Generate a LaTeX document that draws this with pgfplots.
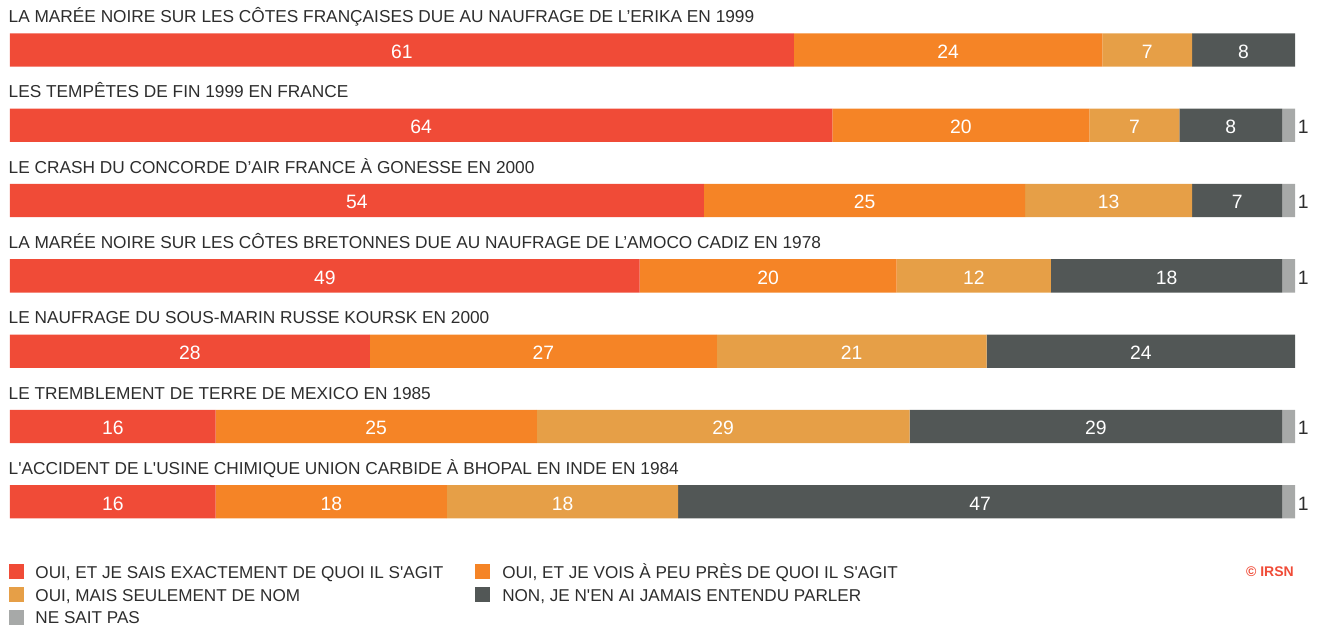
\documentclass[border=0pt]{standalone}
\usepackage{pgfplots}
\pgfplotsset{compat=1.18}
\usepackage{fontspec}
\setmainfont{Liberation Sans}
\definecolor{cRed}{HTML}{F04B37}
\definecolor{cOrange}{HTML}{F58426}
\definecolor{cLight}{HTML}{E69F47}
\definecolor{cDark}{HTML}{525756}
\definecolor{cGrey}{HTML}{A7A9A8}
\definecolor{cText}{HTML}{2D2D2D}
\begin{document}
\begin{tikzpicture}
\path[use as bounding box] (0,0) rectangle (989.25pt,470.25pt);
\begin{axis}[
  at={(0pt,0pt)}, anchor=south west,
  scale only axis, width=989.25pt, height=470.25pt,
  hide axis,
  xmin=-0.7782, xmax=101.868,
  ymin=-1.663, ymax=6.664,
  xbar stacked, bar width=25pt,
]
\addplot[fill=cRed, draw=none] coordinates {(61,6) (64,5) (54,4) (49,3) (28,2) (16,1) (16,0)};
\addplot[fill=cOrange, draw=none] coordinates {(24,6) (20,5) (25,4) (20,3) (27,2) (25,1) (18,0)};
\addplot[fill=cLight, draw=none] coordinates {(7,6) (7,5) (13,4) (12,3) (21,2) (29,1) (18,0)};
\addplot[fill=cDark, draw=none] coordinates {(8,6) (8,5) (7,4) (18,3) (24,2) (29,1) (47,0)};
\addplot[fill=cGrey, draw=none] coordinates {(0,6) (1,5) (1,4) (1,3) (0,2) (1,1) (1,0)};
\end{axis}
% titles
\begin{scope}[every node/.style={anchor=base west, inner sep=0pt, font=\fontsize{12.95pt}{15pt}\selectfont, text=cText}]
\node at (6.3pt,453.225pt) {LA MARÉE NOIRE SUR LES CÔTES FRANÇAISES DUE AU NAUFRAGE DE L’ERIKA EN 1999};
\node at (6.3pt,396.75pt) {LES TEMPÊTES DE FIN 1999 EN FRANCE};
\node at (6.3pt,340.275pt) {LE CRASH DU CONCORDE D’AIR FRANCE À GONESSE EN 2000};
\node at (6.3pt,283.8pt) {LA MARÉE NOIRE SUR LES CÔTES BRETONNES DUE AU NAUFRAGE DE L’AMOCO CADIZ EN 1978};
\node at (6.3pt,227.325pt) {LE NAUFRAGE DU SOUS-MARIN RUSSE KOURSK EN 2000};
\node at (6.3pt,170.85pt) {LE TREMBLEMENT DE TERRE DE MEXICO EN 1985};
\node at (6.3pt,114.375pt) {L\textquotesingle ACCIDENT DE L\textquotesingle USINE CHIMIQUE UNION CARBIDE À BHOPAL EN INDE EN 1984};
\end{scope}
% legend text
\begin{scope}[every node/.style={anchor=base west, inner sep=0pt, font=\fontsize{12.85pt}{15pt}\selectfont, text=cText}]
\node at (26.4pt,36.5pt) {OUI, ET JE SAIS EXACTEMENT DE QUOI IL S\textquotesingle AGIT};
\node at (26.4pt,19.0pt) {OUI, MAIS SEULEMENT DE NOM};
\node at (26.4pt,2.8pt) {NE SAIT PAS};
\node at (376.5pt,36.5pt) {OUI, ET JE VOIS À PEU PRÈS DE QUOI IL S\textquotesingle AGIT};
\node at (376.5pt,19.0pt) {NON, JE N\textquotesingle EN AI JAMAIS ENTENDU PARLER};
\end{scope}
% legend keys
\fill[cRed] (7pt,36.3pt) rectangle ++(11.25pt,11.25pt);
\fill[cLight] (7pt,18.9pt) rectangle ++(11.25pt,11.25pt);
\fill[cGrey] (7pt,1.5pt) rectangle ++(11.25pt,11.25pt);
\fill[cOrange] (355.9pt,36.3pt) rectangle ++(11.25pt,11.25pt);
\fill[cDark] (355.9pt,18.9pt) rectangle ++(11.25pt,11.25pt);
\node[anchor=base east, inner sep=0pt, font=\fontsize{10.5pt}{12pt}\selectfont\bfseries, text=cRed] at (970.5pt,37.7pt) {© IRSN};
% value labels (x in percent)
\begin{scope}[x=9.6375pt, y=1pt, xshift=7.5pt, every node/.style={anchor=center, yshift=-1.2pt, inner sep=0pt, font=\fontsize{14.5pt}{16pt}\selectfont, text=white}]
\node at (30.5,432.75) {61}; \node at (73,432.75) {24}; \node at (88.5,432.75) {7}; \node at (96,432.75) {8};
\node at (32,376.275) {64}; \node at (74,376.275) {20}; \node at (87.5,376.275) {7}; \node at (95,376.275) {8};
\node at (27,319.8) {54}; \node at (66.5,319.8) {25}; \node at (85.5,319.8) {13}; \node at (95.5,319.8) {7};
\node at (24.5,263.325) {49}; \node at (59,263.325) {20}; \node at (75,263.325) {12}; \node at (90,263.325) {18};
\node at (14,206.85) {28}; \node at (41.5,206.85) {27}; \node at (65.5,206.85) {21}; \node at (88,206.85) {24};
\node at (8,150.375) {16}; \node at (28.5,150.375) {25}; \node at (55.5,150.375) {29}; \node at (84.5,150.375) {29};
\node at (8,93.9) {16}; \node at (25,93.9) {18}; \node at (43,93.9) {18}; \node at (75.5,93.9) {47};
\end{scope}
\begin{scope}[x=9.6375pt, y=1pt, xshift=7.5pt, every node/.style={anchor=west, yshift=-1.2pt, inner sep=0pt, font=\fontsize{14.5pt}{16pt}\selectfont, text=cText}]
\node at (100.2,376.275) {1};
\node at (100.2,319.8) {1};
\node at (100.2,263.325) {1};
\node at (100.2,150.375) {1};
\node at (100.2,93.9) {1};
\end{scope}
\end{tikzpicture}
\end{document}
